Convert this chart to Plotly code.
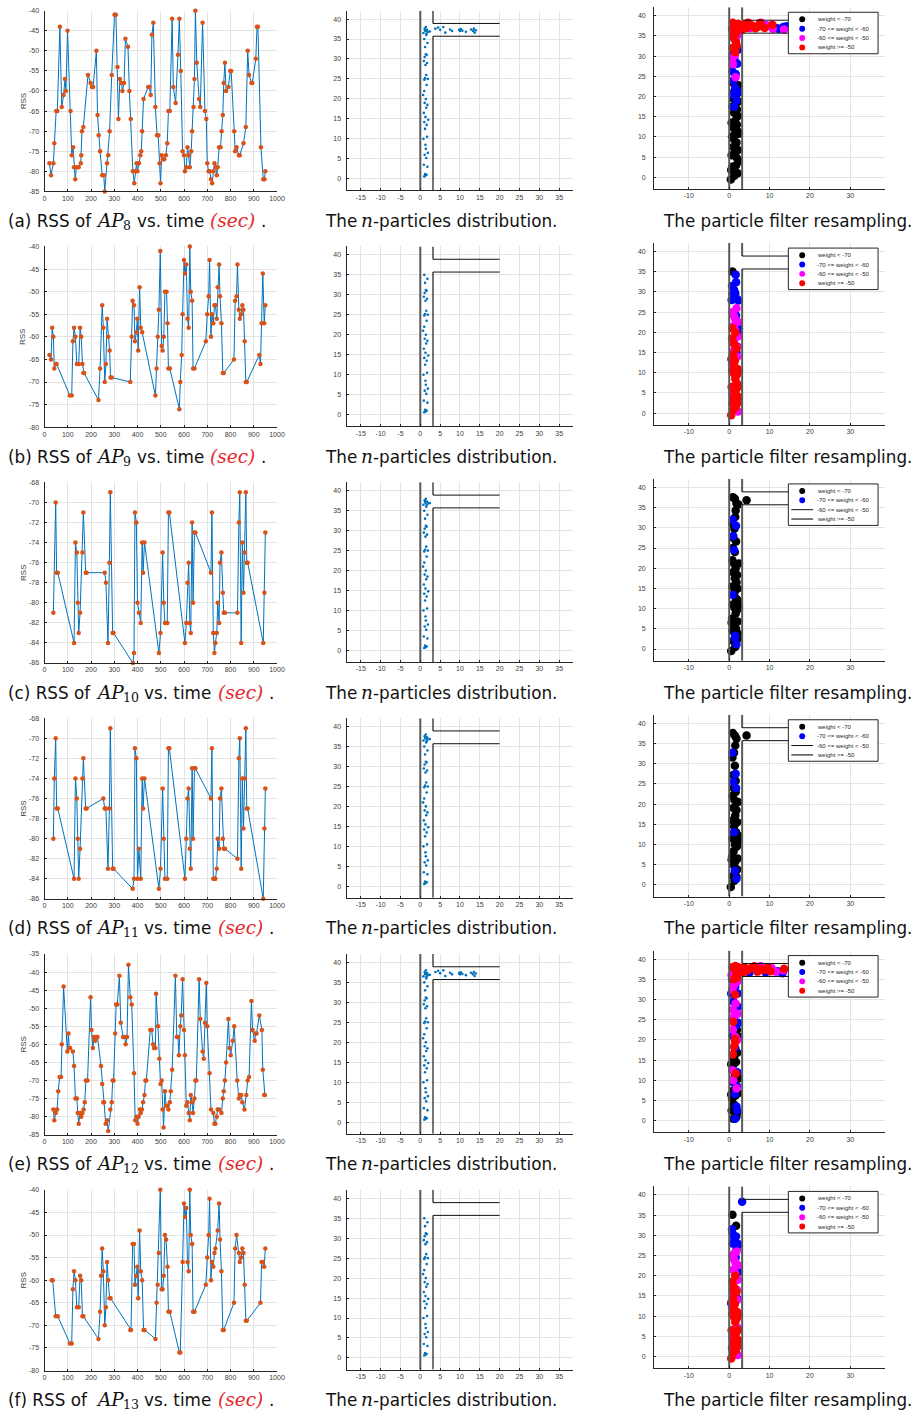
import plotly.graph_objects as go

W, H = 920, 1421
ROW_STEP = 237.0

# ---------------- RSS time series (left column) ----------------
t_a = [21,28,38,42,50,55,66,74,82,88,92,99,112,117,123,127,132,137,147,156,
       158,161,167,187,198,204,209,223,228,233,239,248,255,259,269,274,280,289,301,307,
       314,318,324,331,335,342,348,359,365,371,380,386,392,396,400,406,412,416,420,426,
       446,451,457,462,468,477,484,489,495,499,504,509,515,522,528,533,539,549,554,564,
       574,580,586,594,600,604,610,615,620,625,631,635,641,645,649,655,665,670,680,690,
       696,700,706,711,716,721,727,731,737,741,745,751,757,762,767,771,776,781,791,799,
       803,816,820,826,836,840,856,866,874,880,890,894,909,914,918,931,941,946,950]
rss_a = [-78,-81,-78,-73,-65,-65,-44,-64,-61,-57,-60,-45,-65,-76,-74,-79,-82,-79,-79,-78,
         -76,-70,-69,-56,-58,-59,-59,-50,-66,-71,-75,-81,-81,-85,-78,-76,-70,-56,-41,-41,
         -54,-67,-57,-58,-60,-58,-47,-49,-60,-67,-80,-83,-80,-78,-80,-78,-76,-75,-70,-62,
         -59,-59,-61,-46,-43,-64,-71,-71,-78,-83,-76,-77,-77,-76,-73,-65,-65,-42,-59,-63,
         -51,-42,-55,-75,-76,-80,-79,-74,-76,-79,-75,-70,-64,-57,-40,-53,-62,-64,-43,-65,
         -67,-78,-80,-80,-82,-83,-80,-78,-79,-81,-79,-74,-74,-70,-66,-58,-53,-60,-59,-55,
         -55,-70,-75,-74,-76,-76,-73,-69,-50,-56,-58,-58,-52,-44,-44,-74,-82,-82,-80]

t_b = [21,28,33,38,42,48,52,109,117,122,127,133,139,147,153,158,163,167,170,232,
       239,248,253,259,264,269,274,280,284,289,369,375,379,385,389,395,399,403,409,414,
       420,477,482,487,492,498,504,508,513,518,525,529,533,539,580,584,590,594,600,604,
       610,615,620,625,629,635,639,645,694,700,706,710,716,720,726,731,735,741,745,751,
       755,761,767,771,815,820,826,830,836,840,846,851,856,861,866,870,924,929,934,939,
       945,950]
rss_b = [-64,-65,-58,-60,-67,-66,-66,-73,-73,-61,-58,-60,-66,-66,-58,-60,-66,-68,-68,-74,
         -67,-53,-58,-70,-66,-56,-60,-63,-69,-69,-70,-60,-52,-53,-61,-59,-56,-63,-49,-58,
         -59,-73,-67,-60,-54,-41,-62,-63,-60,-50,-50,-57,-67,-67,-76,-70,-64,-55,-43,-46,
         -44,-56,-58,-40,-50,-52,-67,-67,-61,-55,-51,-43,-60,-55,-57,-53,-53,-56,-49,-44,
         -51,-57,-68,-68,-65,-52,-51,-44,-54,-56,-55,-53,-54,-61,-70,-70,-64,-66,-57,-46,
         -57,-53]

t_c = [38,48,52,57,127,133,139,143,147,153,163,167,177,181,259,264,273,279,283,293,
       297,380,385,389,395,400,406,414,420,424,430,492,499,508,513,518,528,533,537,604,
       610,615,620,625,629,635,639,645,649,716,720,726,731,735,741,745,751,755,761,767,
       771,776,830,836,840,846,851,856,861,866,870,874,941,946,950]
rss_c = [-81,-70,-77,-77,-84,-74,-75,-80,-83,-81,-75,-71,-77,-77,-77,-78,-84,-76,-69,-83,
         -83,-86,-85,-71,-72,-80,-81,-82,-74,-77,-74,-85,-83,-75,-80,-82,-82,-71,-71,-84,
         -82,-78,-76,-82,-83,-72,-80,-73,-73,-77,-71,-83,-85,-84,-83,-80,-82,-76,-75,-79,
         -81,-81,-81,-72,-69,-84,-74,-79,-75,-69,-76,-76,-84,-79,-73]

t_d = [38,42,48,52,57,127,133,139,143,147,153,163,167,177,181,253,259,264,273,279,
       283,293,297,379,385,389,395,400,406,414,420,424,430,492,499,508,513,518,528,533,
       537,604,610,615,620,625,629,635,639,645,649,716,720,726,731,735,741,745,751,755,
       761,767,771,776,830,836,840,846,851,856,861,866,870,874,941,946,950]
rss_d = [-80,-74,-70,-77,-77,-84,-74,-76,-80,-84,-81,-74,-72,-77,-77,-76,-77,-77,-83,-77,
         -69,-83,-83,-85,-84,-71,-72,-84,-81,-84,-74,-77,-74,-85,-83,-75,-80,-84,-84,-71,
         -71,-84,-80,-76,-75,-81,-83,-73,-80,-73,-73,-76,-71,-84,-84,-84,-83,-80,-81,-76,
         -75,-80,-81,-81,-82,-72,-70,-83,-74,-79,-74,-69,-77,-77,-86,-79,-75]

t_e = [38,42,48,54,59,65,71,74,82,98,103,106,110,122,127,133,139,143,147,153,
       158,163,168,173,178,185,198,202,208,212,218,223,228,243,248,253,256,263,269,274,
       283,289,293,297,304,308,313,322,328,338,345,349,355,361,369,375,385,390,396,400,
       405,410,414,419,424,430,434,438,455,461,467,471,477,480,488,494,499,504,508,512,
       518,523,528,533,539,543,549,563,569,574,578,584,588,594,600,604,610,615,620,625,
       629,635,639,645,649,653,665,670,680,685,690,696,700,710,716,726,731,735,741,745,
       751,761,767,771,776,781,791,796,801,810,816,829,836,840,846,851,860,868,874,880,
       890,895,904,908,912,924,935,939,945,948]
rss_e = [-78,-81,-79,-78,-73,-69,-69,-60,-44,-62,-57,-61,-61,-62,-66,-75,-75,-79,-82,-79,
         -80,-79,-78,-76,-70,-70,-47,-56,-61,-58,-59,-58,-58,-66,-71,-76,-76,-82,-81,-84,
         -78,-76,-70,-70,-57,-49,-49,-41,-54,-58,-58,-60,-58,-38,-47,-49,-68,-81,-80,-82,
         -80,-78,-79,-78,-76,-74,-70,-70,-56,-56,-60,-61,-61,-46,-55,-64,-71,-70,-78,-83,
         -73,-77,-77,-78,-76,-73,-67,-41,-58,-58,-63,-55,-52,-42,-56,-63,-77,-76,-79,-81,
         -74,-76,-79,-75,-70,-70,-42,-53,-62,-64,-54,-43,-55,-68,-78,-79,-82,-82,-80,-78,
         -78,-79,-75,-73,-70,-65,-53,-61,-63,-59,-55,-70,-75,-74,-74,-76,-78,-74,-70,-69,
         -48,-56,-59,-57,-57,-52,-56,-67,-74,-74]

t_f = [31,35,48,57,109,117,122,127,133,139,147,153,158,163,167,232,239,243,248,253,
       259,264,269,274,280,284,369,372,379,385,389,395,399,403,409,414,420,426,430,477,
       482,487,492,498,504,508,513,518,523,529,533,539,580,584,594,600,604,610,615,620,
       625,629,635,639,645,694,700,706,710,716,720,726,731,735,745,751,755,761,767,771,
       815,820,826,836,840,846,851,856,861,866,870,929,934,939,945,950]
rss_f = [-60,-60,-68,-68,-74,-74,-62,-58,-60,-66,-66,-59,-60,-68,-68,-73,-67,-59,-53,-58,
         -70,-66,-56,-60,-64,-64,-71,-71,-52,-52,-61,-59,-57,-64,-49,-58,-60,-71,-71,-73,
         -65,-61,-54,-40,-62,-62,-59,-50,-51,-57,-67,-67,-76,-76,-56,-43,-46,-44,-56,-58,
         -40,-50,-52,-67,-67,-61,-55,-50,-42,-60,-56,-57,-54,-53,-49,-43,-51,-58,-71,-71,
         -65,-53,-50,-54,-56,-55,-53,-54,-61,-69,-69,-65,-56,-56,-57,-53]

rss_ranges = [[-85, -40], [-80, -40], [-86, -68], [-86, -68], [-85, -35], [-80, -40]]
rss_ticks = [
    [-85, -80, -75, -70, -65, -60, -55, -50, -45, -40],
    [-80, -75, -70, -65, -60, -55, -50, -45, -40],
    [-86, -84, -82, -80, -78, -76, -74, -72, -70, -68],
    [-86, -84, -82, -80, -78, -76, -74, -72, -70, -68],
    [-85, -80, -75, -70, -65, -60, -55, -50, -45, -40, -35],
    [-80, -75, -70, -65, -60, -55, -50, -45, -40],
]
time_ticks = [0, 100, 200, 300, 400, 500, 600, 700, 800, 900, 1000]
ap_numbers = [8, 9, 10, 11, 12, 13]
row_letters = ['a', 'b', 'c', 'd', 'e', 'f']

# ---------------- floor map (middle / right columns) ----------------
map_x_range = [-18.6, 38.6]
map_y_range = [-2.9, 42.1]
mid_x_ticks = [-15, -10, -5, 0, 5, 10, 15, 20, 25, 30, 35]
right_x_ticks = [-10, 0, 10, 20, 30]
map_y_ticks = [0, 5, 10, 15, 20, 25, 30, 35, 40]
wall_left_x = 0.0
wall_right_x = 3.2
corridor_low_y = 35.7
corridor_high_y = 38.9
corridor_end_x = 20.0

# n-particles (middle column)
mid_vert_x = [1.0,1.3,1.6,1.2,1.8,0.9,1.5,1.1,1.9,1.4,0.8,1.7,1.2,1.6,1.0,2.0,1.3,0.9,1.5,1.8,
              1.1,1.4,0.7,1.6,1.9,1.2,1.0,1.5,1.3,1.7,0.9,1.1,1.6,1.4,1.2,1.8,1.0,1.0,1.3]
mid_vert_y = [0.6,0.8,1.0,1.2,3.0,3.5,5.2,6.0,6.5,7.5,10.0,10.5,12.5,13.5,14.2,14.8,15.5,16.5,17.8,18.5,
              19.0,20.0,21.0,23.5,25.0,25.2,24.8,26.0,28.5,29.0,29.5,30.5,31.0,31.2,33.0,34.0,35.0,22.0,8.5]
mid_top_x = [1.5,0.8,1.3,1.7,1.1,1.9,1.4,1.2,1.6,2.4]
mid_top_y = [36.0,36.5,37.0,37.3,37.6,36.8,38.0,37.2,36.4,36.9]
mid_horiz_x = [3.8,4.5,5.0,6.3,7.5,8.0,9.8,10.2,10.6,11.5,12.8,13.3,13.7,14.0,13.5,10.0,5.8]
mid_horiz_y = [37.6,37.9,37.3,36.6,37.4,37.0,37.3,37.5,37.1,36.8,37.4,37.0,36.6,37.2,37.6,37.0,38.0]
mid_groups = [
    ['vert', 'top', 'horiz'], ['vert'], ['vert', 'top'],
    ['vert', 'top'], ['vert', 'top', 'horiz'], ['vert'],
]

# resampled particles (right column), per weight class
ra_black_x = [0.4,1.3,2.1,0.8,1.7,2.3,0.6,1.5,2.2,1.0,1.8,0.7,1.4,2.4,1.1,1.9,0.6,1.5,2.2,1.2,
              1.9,0.8,1.6,2.3,1.0,1.7,1.3,2.3,0.9,1.6,1.1,1.9,0.5,2.0]
ra_black_y = [-0.5,0.4,1.0,2.6,3.0,4.0,5.5,6.2,6.8,7.5,8.6,10.1,10.6,10.8,12.2,13.0,13.5,14.0,15.2,16.0,
              16.8,17.5,18.2,18.8,19.5,20.4,21.4,22.8,23.5,12.8,9.5,4.8,1.8,11.5]
ra_blue_x = [1.2,1.8,0.9,2.3,1.5,1.0,1.6,0.8,2.0,1.3,0.9,2.1,1.5,2.6,12.3,13.4,14.2,11.7,9.2]
ra_blue_y = [17.5,19.0,20.6,21.0,22.2,24.0,25.6,26.2,28.1,29.2,30.5,31.5,34.0,37.8,36.8,37.2,37.4,36.9,37.6]
ra_mag_x = [1.6,0.9,0.8,1.4,1.8,2.2,0.8,9.6,10.8,13.6,7.9,5.2,2.7]
ra_mag_y = [24.8,28.0,29.5,30.2,34.6,35.4,36.2,37.5,36.8,36.6,38.3,37.0,36.5]
ra_red_x = [0.8,1.5,1.7,1.9,1.0,1.6,0.7,1.4,2.2,2.8,0.9,3.6,4.3,5.0,5.8,6.5,7.2,8.0,8.8,10.7,
            3.2,2.0,4.6,7.6,1.2,1.8]
ra_red_y = [32.0,31.0,33.4,32.5,34.6,35.6,36.8,37.5,38.0,37.2,38.3,37.8,37.0,38.0,37.5,36.9,37.3,37.6,37.0,37.8,
            36.6,36.3,38.3,38.2,36.0,37.0]

rb_black_x = [0.8]
rb_black_y = [35.1]
rb_blue_x = [1.6,1.7,0.7,1.2,0.8,1.5,1.0,2.3,0.6,1.9,1.7,2.4,2.2,1.3,1.8,0.6,2.0]
rb_blue_y = [34.3,32.4,31.5,30.5,29.5,29.7,28.2,27.9,28.0,28.3,24.2,21.0,19.5,18.5,15.0,13.3,16.5]
rb_mag_x = [1.8,0.8,1.2,1.6,2.2,1.0,1.5,2.1,0.9,1.9,1.2,2.0,0.7,1.5,2.3,0.8,1.9,1.4,2.2,1.0]
rb_mag_y = [26.0,25.0,24.0,23.0,22.6,21.5,20.5,19.0,17.5,16.5,15.5,14.0,12.0,9.5,7.0,5.0,3.0,1.5,0.4,6.5]
rb_red_x = [0.8,1.5,0.7,1.3,1.8,1.0,0.6,1.4,1.1,2.0,0.7,2.4,1.2,1.9,1.5,0.6,1.0,2.2,1.6,0.9,
            2.3,1.3,0.8,2.1,1.6,1.1,0.5,1.8]
rb_red_y = [21.0,20.0,18.5,17.0,16.0,14.5,13.5,13.0,12.0,11.0,10.5,10.5,9.8,9.5,8.5,6.5,6.0,6.5,5.5,4.0,
            4.0,3.0,2.5,2.5,1.5,1.0,-0.5,7.5]

rc_black_x = [0.9,1.4,1.8,2.3,4.3,1.6,1.5,0.8,1.3,1.7,0.9,1.4,0.8,1.2,2.4,1.0,2.0,1.4,1.8,0.8,
              2.1,1.3,1.7,0.9,2.4,1.3,2.0,1.6,0.7,0.6,1.2,2.1,1.7,0.8,2.2,1.0,2.1,1.5,0.5,2.2,1.0,1.6]
rc_black_y = [37.6,37.2,36.0,35.8,36.8,34.3,32.7,31.0,29.8,26.6,25.0,24.0,22.0,21.2,21.2,19.0,18.3,17.5,16.5,15.5,
              15.0,14.0,12.5,11.0,10.6,10.2,9.7,8.8,7.5,6.5,6.0,6.8,5.0,4.5,3.8,2.0,2.5,0.5,-0.5,12.0,27.5,20.0]
rc_blue_x = [0.9,1.7,1.0,1.2,0.9,1.5,1.4,1.8]
rc_blue_y = [32.0,30.5,28.0,24.5,13.4,3.3,2.8,1.2]

rd_black_x = [0.9,1.4,1.8,4.3,1.5,1.2,0.8,1.4,1.0,1.6,1.1,0.8,1.3,2.2,1.0,1.8,1.5,0.9,2.0,1.2,
              1.7,0.8,2.3,1.4,1.9,1.1,0.7,0.6,1.5,2.1,1.2,2.0,0.9,1.8,1.3,0.4,2.2,1.6]
rd_black_y = [37.6,37.0,36.2,37.0,34.5,32.7,31.5,29.5,27.2,25.8,24.0,22.0,21.0,20.5,19.0,18.5,17.2,16.0,15.5,14.5,
              13.0,11.5,10.8,10.0,9.5,8.3,7.0,6.2,5.8,6.5,4.8,3.8,2.2,2.0,1.0,-0.5,12.2,23.0]
rd_blue_x = [0.8,1.6,1.0,1.7,1.2,1.4,1.8]
rd_blue_y = [32.7,27.5,25.5,24.0,13.0,3.5,1.5]

re_black_x = [1.0,1.8,0.6,2.0,1.2,0.7,1.5,2.2,0.5,1.0,2.3,1.4,1.0,0.5,1.7,1.2,2.0,1.5,2.4,1.9,1.2,0.8,1.6]
re_black_y = [0.5,1.0,2.5,2.0,4.0,5.5,6.2,6.8,6.5,7.5,10.5,11.0,13.8,14.0,14.5,15.5,16.8,17.5,20.8,22.5,21.5,12.5,9.0]
re_blue_x = [1.5,2.0,1.8,1.4,1.9,1.0,2.0,1.5,0.8,1.6,2.3,1.2,2.2,1.0,0.5,2.1,1.5,0.7,1.3,3.2,9.0,12.0,13.2,5.0]
re_blue_y = [0.5,2.5,3.5,6.6,8.5,9.5,12.0,18.0,21.0,23.5,24.2,25.5,28.2,29.5,31.5,31.5,33.2,35.0,36.5,37.2,36.7,37.0,36.5,36.6]
re_mag_x = [1.0,1.8,0.8,1.5,0.9,2.0,0.7,1.3,2.1,0.9,1.6,0.8,1.2,2.0,0.6,1.8,6.5,7.8,10.5,11.5,13.5,4.0]
re_mag_y = [10.0,8.0,12.5,20.8,22.5,20.0,25.0,26.0,26.5,27.5,29.0,32.5,33.5,34.5,36.0,37.5,37.8,38.2,37.8,36.9,37.2,37.5]
re_red_x = [1.6,0.9,1.2,1.5,1.4,1.0,1.5,1.2,2.0,0.8,1.5,2.3,3.0,3.8,4.5,5.5,6.2,7.0,7.5,8.5,9.5,10.2,13.6,3.5,1.8]
re_red_y = [11.7,16.4,18.3,19.5,20.2,24.5,31.2,35.0,35.5,38.0,38.3,38.0,36.8,38.0,37.2,37.8,38.2,36.9,37.6,37.3,37.9,37.0,37.6,36.8,36.5]

rf_black_x = [0.8,1.7]
rf_black_y = [35.1,32.4]
rf_blue_x = [3.2,0.7,0.8,1.0,1.7,0.8,1.9,2.3,1.8,2.4,2.0,1.9,0.5,0.7,1.3,1.6]
rf_blue_y = [38.3,31.5,30.5,29.8,29.7,28.0,28.0,27.8,26.5,21.0,19.0,14.5,13.2,2.0,0.5,24.5]
rf_mag_x = [1.8,0.8,1.2,1.6,2.2,1.0,1.5,2.1,0.9,1.9,1.2,2.0,0.7,1.5,2.3,0.8,1.9,1.4,2.2,1.0,1.3]
rf_mag_y = [26.0,25.0,24.0,23.0,22.6,21.5,20.5,19.0,17.5,16.5,15.5,14.0,12.0,9.5,7.0,5.0,3.0,1.5,0.4,6.5,25.5]
rf_red_x = [1.5,0.8,1.3,0.9,1.8,1.0,0.6,1.4,1.1,2.0,0.7,2.4,1.2,1.9,1.5,0.6,1.0,2.2,1.6,0.9,
            2.3,1.3,0.8,2.1,1.6,1.1,0.5]
rf_red_y = [20.0,18.5,17.0,16.5,16.0,14.5,13.5,13.0,12.0,11.0,10.5,10.5,9.8,9.5,8.5,6.5,6.0,6.5,5.5,4.0,
            4.0,3.0,2.5,2.5,1.5,1.0,-0.5]

weight_labels = ['weight &lt; -70', '-70 &lt;= weight &lt; -60', '-60 &lt;= weight &lt; -50', 'weight &gt;= -50']
weight_colors = ['#000000', '#0000FF', '#FF00FF', '#FF0000']
right_rows = [
    [(ra_black_x, ra_black_y), (ra_blue_x, ra_blue_y), (ra_mag_x, ra_mag_y), (ra_red_x, ra_red_y)],
    [(rb_black_x, rb_black_y), (rb_blue_x, rb_blue_y), (rb_mag_x, rb_mag_y), (rb_red_x, rb_red_y)],
    [(rc_black_x, rc_black_y), (rc_blue_x, rc_blue_y), None, None],
    [(rd_black_x, rd_black_y), (rd_blue_x, rd_blue_y), None, None],
    [(re_black_x, re_black_y), (re_blue_x, re_blue_y), (re_mag_x, re_mag_y), (re_red_x, re_red_y)],
    [(rf_black_x, rf_black_y), (rf_blue_x, rf_blue_y), (rf_mag_x, rf_mag_y), (rf_red_x, rf_red_y)],
]
series = [(t_a, rss_a), (t_b, rss_b), (t_c, rss_c), (t_d, rss_d), (t_e, rss_e), (t_f, rss_f)]

# ---------------- styling ----------------
BLUE = '#0072BD'
ORANGE = '#D95319'
AX = '#262626'
GRID = '#e3e3e3'
WALL_GRAY = '#5a5a5a'
SANS = 'Liberation Sans, Arial, sans-serif'
TICK_FONT = dict(family=SANS, size=7, color='#404040')
CAP_FONT = dict(family='DejaVu Sans, sans-serif', size=16.8, color='#111111')
MATH_FONT = dict(family='DejaVu Serif, serif', size=18.5, color='#111111', style='italic')
SEC_FONT = dict(family='DejaVu Serif, serif', size=18.5, color='#e8262b', style='italic')
SUB_FONT = dict(family='DejaVu Serif, serif', size=12.5, color='#111111')


def fx(p):
    return p / W


def fy(p):
    return 1 - p / H


def names(idx):
    s = '' if idx == 1 else str(idx)
    return 'xaxis' + s, 'yaxis' + s, 'x' + s, 'y' + s


def axis(**kw):
    d = dict(showline=True, linecolor=AX, linewidth=1, mirror=False, ticks='inside', ticklen=2,
             tickwidth=1, tickcolor=AX, showgrid=True, gridcolor=GRID, gridwidth=1, zeroline=False,
             tickfont=TICK_FONT, fixedrange=True)
    d.update(kw)
    return d


def ticktext(vals):
    return [str(v) for v in vals]


def cap(text, x, y, font, anchor='left'):
    return dict(text=text, x=fx(x), y=fy(y), xref='paper', yref='paper', showarrow=False,
                xanchor=anchor, yanchor='middle', font=font)


fig = go.Figure()
layout = dict(width=W, height=H, autosize=False, margin=dict(l=0, r=0, t=0, b=0),
              paper_bgcolor='white', plot_bgcolor='white', showlegend=False)
shapes = []
annotations = []


def add_walls(xr, yr, right_col):
    fig.add_trace(go.Scatter(x=[wall_left_x, wall_left_x], y=map_y_range, mode='lines',
                             line=dict(color=WALL_GRAY, width=2), xaxis=xr, yaxis=yr, hoverinfo='skip'))
    fig.add_trace(go.Scatter(x=[wall_right_x, wall_right_x, None, wall_right_x, wall_right_x],
                             y=[map_y_range[0], corridor_low_y, None, corridor_high_y, map_y_range[1]],
                             mode='lines',
                             line=dict(color=WALL_GRAY if right_col else '#1a1a1a', width=2 if right_col else 1.2),
                             xaxis=xr, yaxis=yr, hoverinfo='skip'))
    fig.add_trace(go.Scatter(x=[wall_right_x, corridor_end_x, None, wall_right_x, corridor_end_x],
                             y=[corridor_low_y, corridor_low_y, None, corridor_high_y, corridor_high_y],
                             mode='lines', line=dict(color='#111111', width=1), xaxis=xr, yaxis=yr,
                             hoverinfo='skip'))


for i in range(6):
    o = i * ROW_STEP
    cy_cap = 218 + o

    # ---------- left: RSS vs time ----------
    xa, ya, xr, yr = names(3 * i + 1)
    layout[xa] = axis(domain=[fx(43), fx(278)], range=[0, 1000], tickmode='array',
                      tickvals=time_ticks, ticktext=ticktext(time_ticks), anchor=yr)
    layout[ya] = axis(domain=[fy(188.3 + o), fy(6.7 + o)], range=rss_ranges[i], tickmode='array',
                      tickvals=rss_ticks[i], ticktext=ticktext(rss_ticks[i]), anchor=xr,
                      ticklabelstandoff=3)
    t, r = series[i]
    fig.add_trace(go.Scatter(x=t, y=r, mode='lines+markers', line=dict(color=BLUE, width=1),
                             marker=dict(color=ORANGE, size=4.5, line=dict(width=0)),
                             xaxis=xr, yaxis=yr, cliponaxis=False, hoverinfo='skip'))
    annotations.append(dict(text='RSS', x=fx(21.5), y=fy(97.5 + o), xref='paper', yref='paper',
                            textangle=-90, showarrow=False, xanchor='center', yanchor='middle',
                            font=dict(family=SANS, size=8, color='#404040')))
    sub = str(ap_numbers[i])
    sub_w = 8 * len(sub)
    annotations.append(cap('(%s) RSS of' % row_letters[i], 4, cy_cap, CAP_FONT))
    annotations.append(cap('AP', 93, cy_cap - 0.5, MATH_FONT))
    annotations.append(cap(sub, 120, cy_cap + 4.5, SUB_FONT))
    annotations.append(cap('vs. time', 126 + sub_w, cy_cap, CAP_FONT))
    annotations.append(cap('(sec)', 200 + sub_w, cy_cap - 0.5, SEC_FONT))
    annotations.append(cap('.', 252 + sub_w, cy_cap, CAP_FONT))

    # ---------- middle: n-particles distribution ----------
    xa, ya, xr, yr = names(3 * i + 2)
    layout[xa] = axis(domain=[fx(348.3), fx(577.7)], range=map_x_range, tickmode='array',
                      tickvals=mid_x_ticks, ticktext=ticktext(mid_x_ticks), anchor=yr)
    layout[ya] = axis(domain=[fy(187.3 + o), fy(6.7 + o)], range=map_y_range, tickmode='array',
                      tickvals=map_y_ticks, ticktext=ticktext(map_y_ticks), anchor=xr,
                      ticklabelstandoff=3)
    px_, py_ = [], []
    for g in mid_groups[i]:
        if g == 'vert':
            px_ += mid_vert_x; py_ += mid_vert_y
        elif g == 'top':
            px_ += mid_top_x; py_ += mid_top_y
        else:
            px_ += mid_horiz_x; py_ += mid_horiz_y
    fig.add_trace(go.Scatter(x=px_, y=py_, mode='markers', marker=dict(color=BLUE, size=2.6, line=dict(width=0)),
                             xaxis=xr, yaxis=yr, hoverinfo='skip'))
    add_walls(xr, yr, False)
    annotations.append(cap('The', 325, cy_cap, CAP_FONT))
    annotations.append(cap('n', 361, cy_cap - 0.5, MATH_FONT))
    annotations.append(cap('-particles distribution.', 373, cy_cap, CAP_FONT))

    # ---------- right: particle filter resampling ----------
    xa, ya, xr, yr = names(3 * i + 3)
    layout[xa] = axis(domain=[fx(659.3), fx(892.7)], range=map_x_range, tickmode='array',
                      tickvals=right_x_ticks, ticktext=ticktext(right_x_ticks), anchor=yr)
    layout[ya] = axis(domain=[fy(186 + o), fy(3.3 + o)], range=map_y_range, tickmode='array',
                      tickvals=map_y_ticks, ticktext=ticktext(map_y_ticks), anchor=xr,
                      ticklabelstandoff=6)
    for k, grp in enumerate(right_rows[i]):
        if grp is None:
            continue
        fig.add_trace(go.Scatter(x=grp[0], y=grp[1], mode='markers',
                                 marker=dict(color=weight_colors[k], size=8.5, line=dict(width=0)),
                                 xaxis=xr, yaxis=yr, hoverinfo='skip'))
    add_walls(xr, yr, True)
    annotations.append(cap('The particle filter resampling.', 666, cy_cap, CAP_FONT))

    # manual legend box
    lx0, lx1, ly0, ly1 = 795.0, 885.7, 8.3 + o, 50.0 + o
    shapes.append(dict(type='rect', xref='paper', yref='paper', x0=fx(lx0), x1=fx(lx1),
                       y0=fy(ly1), y1=fy(ly0), fillcolor='white', line=dict(color=AX, width=1),
                       layer='above'))
    entry_y = [15.4, 24.8, 34.2, 43.6]
    for k in range(4):
        cy = entry_y[k] + o
        if right_rows[i][k] is None:
            col, wd = ('#111111', 1) if k == 2 else (WALL_GRAY, 1.6)
            shapes.append(dict(type='line', xref='paper', yref='paper', x0=fx(798), x1=fx(820),
                               y0=fy(cy), y1=fy(cy), line=dict(color=col, width=wd), layer='above'))
        else:
            shapes.append(dict(type='circle', xref='paper', yref='paper', x0=fx(806), x1=fx(812),
                               y0=fy(cy + 3), y1=fy(cy - 3), fillcolor=weight_colors[k],
                               line=dict(width=0), layer='above'))
        annotations.append(dict(text=weight_labels[k], x=fx(822), y=fy(cy), xref='paper', yref='paper',
                                showarrow=False, xanchor='left', yanchor='middle',
                                font=dict(family=SANS, size=6, color='#262626')))

layout['shapes'] = shapes
layout['annotations'] = annotations
fig.update_layout(**layout)
fig.write_html("out.html", config={'displayModeBar': False},
               post_script="document.body.style.margin='0px';")
